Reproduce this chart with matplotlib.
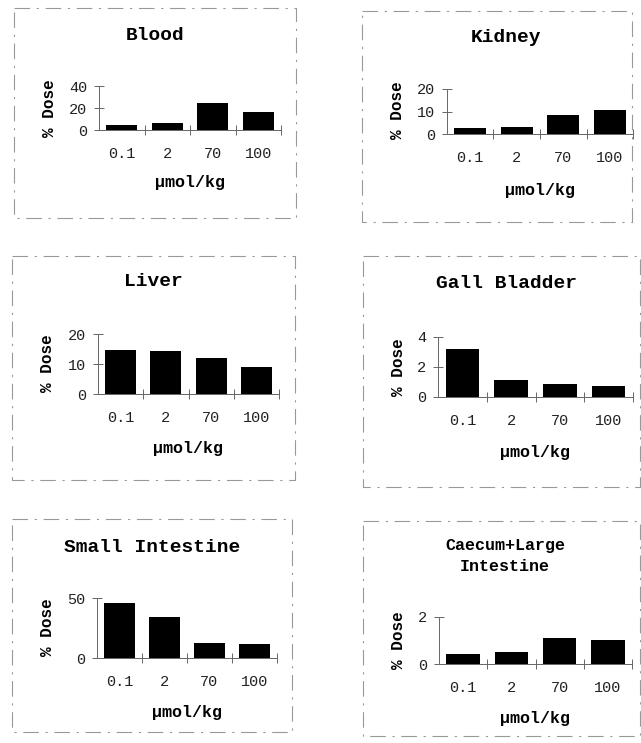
import matplotlib
matplotlib.use("Agg")
import matplotlib.pyplot as plt
from matplotlib.lines import Line2D

# doses and % dose per organ
doses = ["0.1", "2", "70", "100"]
organs = ["Blood", "Kidney", "Liver", "Gall Bladder", "Small Intestine", "Caecum+Large\nIntestine"]
blood = [4.3, 6.4, 24.5, 16.4]
kidney = [2.7, 2.9, 8.3, 10.7]
liver = [14.7, 14.2, 11.9, 8.9]
gall = [3.2, 1.13, 0.87, 0.75]
small_int = [45.8, 33.9, 12.5, 11.7]
caecum = [0.42, 0.49, 1.09, 1.03]
yticks = [[0, 20, 40], [0, 10, 20], [0, 10, 20], [0, 2, 4], [0, 50], [0, 2]]

W, H = 641, 743
fig = plt.figure(figsize=(W / 100, H / 100), dpi=100)

def fx(x):
    return x / W

def fy(y):
    return 1 - y / H

# layout in pixels: axes (left, right, bottom, top), title (x, y), xlabel (x, y), ylabel (x, y), frame (l, t, r, b)
layout = [
    dict(ax=(99, 281, 130, 86), title=(155, 35), xl=(190, 183), yl=(49, 108), frame=(14, 8, 296, 218)),
    dict(ax=(447, 633, 134, 89), title=(506, 37), xl=(540, 190), yl=(397, 110), frame=(362, 11, 632, 222)),
    dict(ax=(98, 279, 394, 334), title=(153, 282), xl=(188, 449), yl=(47, 363), frame=(12, 256, 295, 480)),
    dict(ax=(438, 633, 397, 337), title=(506, 283), xl=(535, 452), yl=(399, 367), frame=(363, 256, 640, 487)),
    dict(ax=(97, 277, 658, 598), title=(152, 547), xl=(187, 713), yl=(48, 627), frame=(12, 519, 292, 732)),
    dict(ax=(439, 632, 664, 617), title=(505, 556), xl=(535, 719), yl=(399, 640), frame=(363, 521, 640, 736)),
]
values = [blood, kidney, liver, gall, small_int, caecum]

mono = "Liberation Mono"

for i, (organ, vals, yt, lay) in enumerate(zip(organs, values, yticks, layout)):
    l, r, b, t = lay["ax"]
    ax = fig.add_axes([fx(l), fy(b), (r - l) / W, (b - t) / H])
    x = list(range(len(doses)))
    ax.bar(x, vals, width=0.69, color="black")
    ax.set_xlim(-0.5, 3.5)
    ax.set_ylim(yt[0], yt[-1])
    ax.set_xticks(x)
    ax.set_xticklabels(doses, fontfamily=mono, fontsize=11, color="#222")
    ax.set_xticks([0.5, 1.5, 2.5, 3.5], minor=True)
    ax.tick_params(axis="x", which="major", length=0, pad=12)
    ax.tick_params(axis="x", which="minor", direction="inout", length=7, width=0.7, color="#666")
    ax.set_yticks(yt)
    ax.set_yticklabels([str(v) for v in yt], fontfamily=mono, fontsize=11, color="#222")
    ax.tick_params(axis="y", direction="inout", length=7, width=0.7, color="#666", pad=5)
    for s in ["top", "right"]:
        ax.spines[s].set_visible(False)
    for s in ["left", "bottom"]:
        ax.spines[s].set_color("#666")
        ax.spines[s].set_linewidth(0.7)

    tsize = 12 if "\n" in organ else 14
    fig.text(fx(lay["title"][0]), fy(lay["title"][1]), organ, ha="center", va="center",
             fontfamily=mono, fontweight="bold", fontsize=tsize, linespacing=1.55)
    fig.text(fx(lay["xl"][0]), fy(lay["xl"][1]), "µmol/kg", ha="center", va="center",
             fontfamily=mono, fontweight="bold", fontsize=12)
    fig.text(fx(lay["yl"][0]), fy(lay["yl"][1]), "% Dose", ha="center", va="center",
             rotation=90, fontfamily=mono, fontweight="bold", fontsize=11.5)

    fl, ft, fr, fb = lay["frame"]
    xs = [fx(fl), fx(fr), fx(fr), fx(fl), fx(fl)]
    ys = [fy(ft), fy(ft), fy(fb), fy(fb), fy(ft)]
    fig.add_artist(Line2D(xs, ys, color="#999", lw=0.8, linestyle=(0, (14, 6, 2, 6))))

fig.savefig("out.png", dpi=100)
